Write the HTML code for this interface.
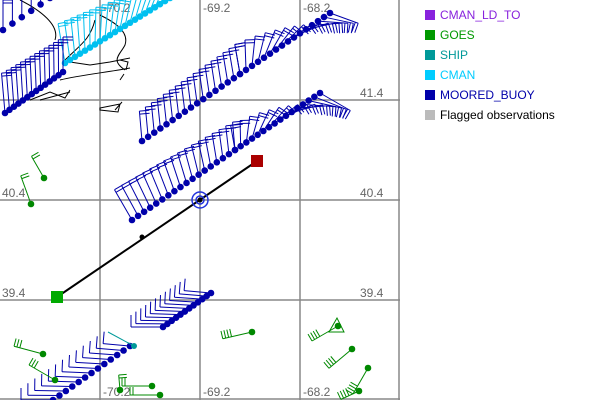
<!DOCTYPE html>
<html><head><meta charset="utf-8"><style>
body{margin:0;background:#fff;width:600px;height:400px;overflow:hidden;font-family:"Liberation Sans",sans-serif}
svg{position:absolute;left:0;top:0}
.lg{position:absolute;left:425px;font-size:12px}
.lg i{position:absolute;left:0;top:1px;width:10px;height:10px}
.lg span{position:absolute;left:15px;top:-1px;white-space:nowrap}
</style></head><body>
<svg id="s" width="600" height="400" xmlns="http://www.w3.org/2000/svg" font-family="Liberation Sans, sans-serif" font-size="12">
<g stroke="#888" stroke-width="1.5" fill="none">
<line x1="100" y1="0" x2="100" y2="400"/><line x1="200" y1="0" x2="200" y2="400"/><line x1="300" y1="0" x2="300" y2="400"/>
<line x1="0" y1="100" x2="400" y2="100"/><line x1="0" y1="200" x2="400" y2="200"/><line x1="0" y1="300" x2="400" y2="300"/>
<line x1="399" y1="0" x2="399" y2="400"/><line x1="0" y1="399" x2="400" y2="399"/>
</g>
<g fill="#666">
<text x="103" y="12">-70.2</text><text x="203" y="12">-69.2</text><text x="303" y="12">-68.2</text>
<text x="103" y="396">-70.2</text><text x="203" y="396">-69.2</text><text x="303" y="396">-68.2</text>
<text x="360" y="97">41.4</text><text x="2" y="197">40.4</text><text x="360" y="197">40.4</text>
<text x="2" y="297">39.4</text><text x="360" y="297">39.4</text>
</g>
<g stroke="#000" fill="none" stroke-width="1">
<path d="M20,0 C40,10 60,25 55,40 M65,60 C80,45 90,40 95,20 M100,15 C110,20 130,30 125,45 C120,55 110,60 125,70 M70,62 L90,65 L110,62 L130,58 M60,80 C80,75 110,72 130,68 M30,100 L50,92 L65,98 L70,90 M100,108 L120,104 L118,112 L100,110 Z M115,110 L122,102 M40,100 L70,92 M120,60 L128,62 L126,70 M120,80 L124,74"/>
</g>
<g id="g"></g>
<line x1="57" y1="297" x2="257" y2="161" stroke="#000" stroke-width="2"/>
<circle cx="142" cy="237" r="2.5" fill="#000"/>
<circle cx="200" cy="200" r="4" fill="none" stroke="#2233dd" stroke-width="1.5"/>
<circle cx="200" cy="200" r="8" fill="none" stroke="#2233dd" stroke-width="1.5"/>
<circle cx="200" cy="200" r="2.5" fill="#000"/>
<rect x="51" y="291" width="12" height="12" fill="#00aa00"/>
<rect x="251" y="155" width="12" height="12" fill="#aa0000"/>
</svg>
<div class="lg" style="top:9px"><i style="background:#8822dd"></i><span style="color:#8822dd">CMAN_LD_TO</span></div>
<div class="lg" style="top:29px"><i style="background:#009900"></i><span style="color:#009900">GOES</span></div>
<div class="lg" style="top:49px"><i style="background:#009999"></i><span style="color:#009999">SHIP</span></div>
<div class="lg" style="top:69px"><i style="background:#00ccff"></i><span style="color:#00ccff">CMAN</span></div>
<div class="lg" style="top:89px"><i style="background:#0000aa"></i><span style="color:#0000aa">MOORED_BUOY</span></div>
<div class="lg" style="top:109px"><i style="background:#bbbbbb"></i><span style="color:#000">Flagged observations</span></div>
<script>
var g=document.getElementById('g'),h='';
function barb(x,y,ang,len,col,n,fl){
 var r=ang*Math.PI/180,dx=Math.cos(r),dy=Math.sin(r);
 var ex=x+dx*len,ey=y+dy*len;fl=fl||10;
 h+='<line x1="'+x+'" y1="'+y+'" x2="'+ex+'" y2="'+ey+'" stroke="'+col+'"/>';
 var px=Math.cos(r+Math.PI/2),py=Math.sin(r+Math.PI/2);
 for(var k=0;k<n;k++){var bx=ex-dx*k*3,by=ey-dy*k*3;
  h+='<line x1="'+bx+'" y1="'+by+'" x2="'+(bx+px*fl)+'" y2="'+(by+py*fl)+'" stroke="'+col+'"/>';}
}
function series(x0,y0,x1,y1,n,col,a0,a1,l0,l1,nb,fl){
 for(var i=0;i<n;i++){var t=i/(n-1),x=x0+(x1-x0)*t,y=y0+(y1-y0)*t;
  barb(x,y,a0+(a1-a0)*t,l0+(l1-l0)*t,col,nb,fl);}
 for(var i=0;i<n;i++){var t=i/(n-1),x=x0+(x1-x0)*t,y=y0+(y1-y0)*t;
  h+='<circle cx="'+x+'" cy="'+y+'" r="3.3" fill="'+col+'"/>';}
}
var B='#0000aa',C='#00c0f0',G='#008800';
series(3,30,50,-2,6,B,-90,-90,30,30,2);
series(65,63,170,-2,22,C,-100,-60,40,30,2);
series(5,113,63,72,14,B,-95,-90,40,35,2);
series(142,141,240,74,17,B,-95,-100,30,30,2);
series(240,74,330,13,16,B,-100,20,30,30,2);
series(132,220,235,150,18,B,-120,-95,35,28,2);
series(235,150,320,93,16,B,-100,30,25,35,2);
series(163,327,211,293,12,B,180,185,32,27,1,12);
series(53,400,130,346,13,B,180,185,32,27,1,12);
h+='<line x1="134" y1="346" x2="108" y2="332" stroke="#009999"/><circle cx="134" cy="346" r="3" fill="#009999"/>';
function gb(x,y,ang,len,n){barb(x,y,ang,len,G,n,8);h+='<circle cx="'+x+'" cy="'+y+'" r="3.3" fill="'+G+'"/>';}
gb(44,178,-120,25,2);gb(31,204,-110,30,2);gb(43,354,-165,30,3);gb(55,380,-150,30,3);
gb(152,386,180,30,2);gb(160,395,180,30,2);gb(120,390,-95,15,2);
gb(252,332,167,30,4);gb(338,326,150,30,4);gb(352,349,140,30,4);gb(368,368,120,30,4);gb(359,391,155,20,4);
h+='<path d="M337,318 L329,332 L344,332 Z" fill="none" stroke="'+G+'"/>';
g.innerHTML=h;
</script>
</body></html>
